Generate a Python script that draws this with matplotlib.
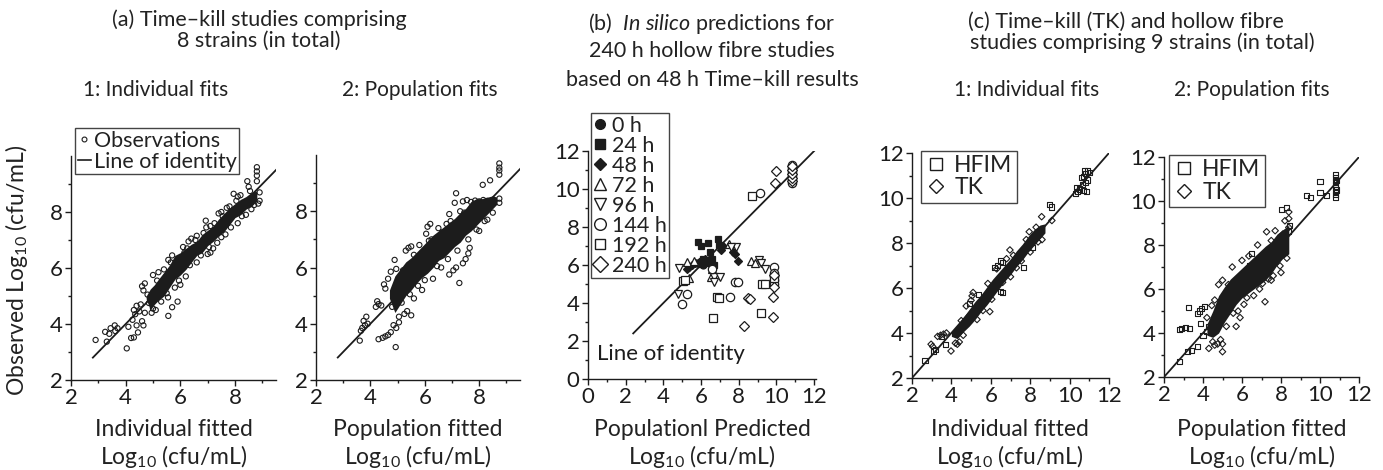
import numpy as np
import matplotlib
matplotlib.use("Agg")
import matplotlib.pyplot as plt
from matplotlib.lines import Line2D

# === DATA ===
# (a1) time-kill, individual fits: dense core band + visible single points
a1_band_x = [4.75, 4.9, 5.05, 5.2, 5.4, 5.6, 5.8, 6.0, 6.2, 6.4, 6.6, 6.8, 7.0, 7.2, 7.4,
             7.6, 7.8, 8.0, 8.2, 8.4, 8.6, 8.8]
a1_band_lo = [4.9, 4.5, 4.7, 4.85, 5.0, 5.3, 5.6, 5.75, 5.95, 6.2, 6.45, 6.55, 6.8, 6.95,
              7.15, 7.3, 7.55, 7.8, 7.9, 8.1, 8.2, 8.4]
a1_band_hi = [5.0, 5.25, 5.4, 5.6, 5.85, 6.1, 6.45, 6.55, 6.7, 6.85, 6.95, 7.2, 7.35, 7.5,
              7.75, 7.95, 8.15, 8.3, 8.45, 8.55, 8.7, 8.75]
a1_obs = [(2.9, 3.43), (3.31, 3.37), (3.25, 3.72), (3.4, 3.65), (3.45, 3.85), (3.6, 3.95),
          (3.7, 3.85), (3.62, 3.75), (4.04, 3.13), (4.2, 3.5), (4.3, 3.52), (4.45, 3.7),
          (4.4, 3.95), (4.1, 3.9), (4.25, 4.15), (4.35, 4.35), (4.5, 4.45), (4.6, 4.1),
          (4.65, 3.95), (4.7, 4.4), (4.4, 4.65), (4.55, 4.7), (4.3, 4.5), (4.6, 5.35),
          (4.7, 5.45), (4.65, 5.2), (5.0, 5.75), (5.2, 5.85), (5.4, 5.95), (5.56, 6.29),
          (5.56, 4.29), (5.7, 4.6), (5.9, 4.8), (5.55, 4.95), (6.0, 5.4), (6.2, 5.7),
          (6.1, 6.75), (6.25, 6.7), (6.3, 6.95), (6.4, 7.05), (6.93, 7.69), (6.95, 7.45),
          (7.1, 6.55), (7.2, 6.7), (7.4, 7.95), (7.5, 8.0), (7.8, 8.2), (7.95, 8.65),
          (8.1, 8.55), (8.45, 9.1), (8.5, 8.9), (8.8, 9.1), (8.8, 9.3), (8.8, 9.45),
          (8.8, 9.6), (8.85, 8.3), (8.9, 8.4), (5.3, 5.3), (5.1, 4.5), (4.95, 4.4),
          (5.8, 5.3), (6.6, 6.2), (7.0, 6.5), (7.5, 7.1), (8.1, 7.6), (8.4, 7.9),
          (8.6, 8.1), (5.7, 6.45), (6.6, 7.15), (7.1, 7.5), (7.7, 8.15), (8.2, 8.6),
          (4.85, 4.75), (4.8, 5.05), (5.0, 4.55), (5.15, 5.55), (5.3, 4.8), (5.5, 5.1),
          (5.65, 6.2), (5.95, 5.55), (6.15, 6.55), (6.35, 6.1), (6.55, 7.0), (6.75, 6.45),
          (6.85, 7.25), (7.05, 6.75), (7.25, 7.6), (7.35, 6.9), (7.55, 7.85), (7.65, 7.2),
          (7.85, 7.45), (8.05, 8.4), (8.25, 7.85), (8.55, 8.75), (8.7, 8.25), (8.9, 8.7)]

# (a2) time-kill, population fits
a2_band_x = [4.7, 4.9, 5.1, 5.3, 5.5, 5.7, 5.9, 6.1, 6.3, 6.5, 6.7, 6.9, 7.1, 7.3, 7.5,
             7.7, 7.9, 8.1, 8.3, 8.5, 8.65]
a2_band_lo = [4.9, 4.4, 4.7, 5.0, 5.2, 5.45, 5.65, 5.8, 6.0, 6.25, 6.35, 6.55, 6.75, 6.9,
              7.15, 7.3, 7.5, 7.7, 7.9, 8.1, 8.25]
a2_band_hi = [5.2, 5.7, 5.95, 6.2, 6.35, 6.55, 6.75, 6.95, 7.15, 7.3, 7.45, 7.6, 7.75, 7.95,
              8.1, 8.35, 8.45, 8.45, 8.5, 8.55, 8.5]
a2_obs = [(3.61, 3.4), (3.7, 3.85), (3.75, 4.1), (3.85, 4.25), (3.8, 3.95), (3.9, 4.0),
          (3.65, 3.75), (4.2, 4.6), (4.3, 4.7), (4.4, 4.65), (4.25, 4.8), (4.3, 3.45),
          (4.45, 3.5), (4.55, 3.55), (4.65, 3.6), (4.75, 3.7), (4.85, 3.95), (4.95, 3.85),
          (5.05, 4.05), (4.93, 3.17), (5.05, 4.25), (5.25, 4.35), (5.35, 4.45), (5.5, 4.3),
          (4.55, 5.25), (4.5, 5.4), (4.65, 5.6), (4.75, 5.85), (4.89, 6.27), (5.3, 6.6),
          (5.4, 6.7), (5.5, 6.75), (6.0, 6.55), (6.15, 6.95), (6.05, 7.2), (6.2, 7.55),
          (6.1, 7.45), (6.8, 7.55), (6.95, 7.65), (7.15, 8.64), (7.1, 8.3), (6.9, 7.9),
          (7.27, 5.45), (6.9, 5.75), (7.05, 5.9), (7.15, 6.0), (7.4, 6.15), (7.5, 6.3),
          (7.6, 6.5), (7.65, 6.7), (8.13, 8.94), (8.4, 9.1), (8.74, 9.3), (8.74, 9.45),
          (8.74, 9.55), (8.74, 9.7), (8.74, 8.3), (8.74, 8.45), (5.9, 5.2), (6.3, 5.6),
          (5.6, 4.9), (6.6, 6.0), (8.0, 7.3), (8.3, 7.7), (5.2, 5.9), (5.8, 6.8),
          (6.5, 7.4), (7.3, 8.0), (7.4, 8.35), (7.55, 8.4), (7.7, 8.33), (7.85, 8.38),
          (8.0, 8.35), (8.15, 8.4), (8.3, 8.37), (8.45, 8.35), (4.8, 4.6), (4.95, 5.95),
          (5.15, 4.75), (5.45, 5.05), (5.6, 6.45), (5.75, 5.35), (6.0, 5.55), (6.25, 7.0),
          (6.45, 6.05), (6.65, 7.25), (6.85, 6.3), (7.0, 7.5), (7.2, 6.6), (7.45, 7.95),
          (7.6, 7.0), (7.9, 7.35), (8.2, 7.65), (8.5, 7.95)]

# (b) in silico predictions, one list per sampling time
b_0h = [(5.8, 6.1), (6.0, 6.2), (6.2, 6.25), (6.4, 6.1), (6.1, 6.0), (6.5, 6.2)]
b_24h = [(5.86, 7.23), (5.98, 7.0), (6.39, 7.18), (6.89, 7.35), (6.5, 6.7), (6.93, 7.05),
         (5.9, 6.1), (6.1, 6.3), (6.3, 6.2), (6.6, 6.3), (6.7, 6.0), (6.0, 6.05), (6.45, 6.1)]
b_48h = [(7.07, 6.8), (7.14, 7.0), (7.96, 6.23), (7.7, 6.7), (7.8, 6.6), (5.37, 5.9),
         (5.25, 5.8), (5.5, 6.0), (5.7, 6.1), (6.2, 6.3), (9.85, 4.9), (9.85, 5.1),
         (9.85, 5.25), (10.8, 11.1), (5.1, 5.2)]
b_72h = [(7.47, 7.09), (8.67, 6.23), (8.85, 6.1), (6.51, 5.39), (5.28, 6.18), (5.35, 5.3),
         (6.6, 5.8), (5.6, 6.2), (10.8, 10.9)]
b_96h = [(7.86, 6.93), (9.05, 6.25), (9.16, 6.1), (4.84, 5.82), (4.75, 4.47), (6.68, 5.35),
         (6.98, 5.35), (6.68, 5.1), (7.6, 6.95), (9.4, 5.8)]
b_144h = [(9.14, 9.77), (4.98, 3.95), (5.28, 4.47), (7.56, 4.31), (7.79, 5.12), (7.95, 5.12),
          (9.85, 5.9), (9.85, 5.6), (9.85, 5.4), (9.85, 5.2), (9.85, 5.0), (10.8, 10.3),
          (10.8, 10.5), (10.8, 10.7), (10.8, 10.9), (10.8, 11.1), (10.8, 11.25), (6.6, 5.8)]
b_192h = [(8.7, 9.65), (6.86, 4.33), (6.95, 4.25), (6.63, 3.19), (9.17, 3.45), (9.26, 4.98),
          (9.4, 4.98), (5.02, 5.16), (5.15, 5.2), (9.85, 5.3)]
b_240h = [(9.97, 10.95), (9.93, 10.33), (8.49, 4.25), (8.6, 4.2), (9.84, 4.33), (9.81, 3.28),
          (8.3, 2.79), (10.8, 10.4), (10.8, 10.6), (10.8, 10.8), (10.8, 11.0), (10.8, 11.2),
          (9.85, 4.85), (9.85, 5.5)]
b_labels = ["0 h", "24 h", "48 h", "72 h", "96 h", "144 h", "192 h", "240 h"]

# (c1) TK + HFIM, individual fits
c1_band_x = [4.0, 4.3, 4.6, 4.9, 5.2, 5.5, 5.8, 6.1, 6.4, 6.7, 7.0, 7.3, 7.6, 7.9, 8.2,
             8.5, 8.75]
c1_band_lo = [3.85, 3.75, 4.05, 4.3, 4.6, 4.95, 5.25, 5.6, 5.95, 6.3, 6.6, 6.95, 7.25, 7.6,
              7.9, 8.2, 8.45]
c1_band_hi = [4.05, 4.35, 4.7, 5.05, 5.4, 5.7, 6.05, 6.4, 6.7, 7.0, 7.3, 7.65, 7.95, 8.3,
              8.6, 8.8, 8.85]
c1_hfim = [(2.66, 2.76), (3.1, 3.2), (3.2, 3.25), (3.68, 3.47), (3.5, 3.85), (6.57, 5.8),
           (6.5, 5.85), (6.2, 6.9), (6.35, 7.0), (6.5, 7.2), (6.6, 7.15), (7.64, 6.92),
           (9.0, 9.73), (9.1, 9.6), (10.3, 10.2), (10.4, 10.3), (10.35, 10.45), (10.5, 10.4),
           (10.7, 10.35), (10.85, 10.3), (10.6, 10.9), (10.7, 10.95), (10.8, 11.1),
           (10.9, 11.2), (10.75, 11.2), (11.0, 11.15), (10.9, 10.8), (10.65, 10.6),
           (10.8, 10.7), (4.9, 5.3), (5.4, 5.7), (8.1, 7.8)]
c1_tk = [(2.97, 3.5), (3.05, 3.4), (3.3, 3.85), (3.45, 3.9), (3.6, 3.95), (3.75, 4.0),
         (3.98, 3.2), (4.2, 3.55), (4.3, 3.5), (4.4, 3.6), (4.6, 3.9), (5.0, 5.45),
         (5.05, 5.65), (5.1, 5.8), (5.95, 4.95), (5.6, 5.0), (6.97, 7.69), (7.0, 6.5),
         (7.8, 8.15), (7.95, 8.5), (8.58, 9.17), (9.1, 9.0), (8.4, 8.05), (4.5, 4.55),
         (5.3, 4.6), (6.3, 6.85), (6.8, 7.3), (7.3, 6.9), (8.0, 7.6), (8.6, 8.15),
         (4.75, 5.2), (5.45, 5.15), (5.85, 6.2), (6.05, 5.5), (6.6, 6.25), (7.15, 7.45),
         (7.55, 7.2), (8.3, 8.7)]

# (c2) TK + HFIM, population fits
c2_band_x = [4.2, 4.5, 4.8, 5.1, 5.4, 5.7, 6.0, 6.3, 6.6, 6.9, 7.2, 7.5, 7.8, 8.1, 8.4]
c2_band_lo = [3.9, 3.8, 4.0, 4.5, 4.9, 5.3, 5.6, 5.8, 6.0, 6.2, 6.4, 6.7, 7.1, 7.4, 7.6]
c2_band_hi = [4.4, 5.0, 5.7, 6.1, 6.45, 6.7, 6.95, 7.2, 7.45, 7.7, 7.95, 8.15, 8.5, 8.7, 8.9]
c2_hfim = [(2.82, 2.7), (3.2, 3.15), (3.4, 3.2), (3.7, 3.4), (2.8, 4.15), (2.9, 4.2),
           (3.1, 4.25), (3.3, 4.2), (3.28, 5.14), (3.7, 4.9), (3.8, 5.0), (3.9, 5.1),
           (4.1, 5.2), (3.85, 4.45), (4.0, 3.9), (6.4, 7.05), (6.5, 7.6), (8.03, 9.6),
           (8.3, 9.7), (9.32, 10.27), (9.5, 10.14), (10.0, 10.88), (10.0, 10.4),
           (10.35, 10.25), (10.8, 10.15), (10.8, 10.3), (10.8, 10.45), (10.8, 10.6),
           (10.8, 10.75), (10.8, 10.9), (10.8, 11.05), (10.8, 11.2), (10.85, 10.5),
           (10.85, 10.95), (4.3, 4.3), (4.2, 4.05), (8.4, 8.6), (8.45, 8.9)]
c2_tk = [(4.3, 3.3), (4.5, 3.6), (4.6, 3.45), (4.75, 3.5), (4.9, 3.7), (5.0, 3.15),
         (5.0, 3.5), (4.8, 6.2), (5.0, 6.4), (5.3, 6.2), (5.5, 5.6), (5.7, 4.3), (5.9, 4.7),
         (5.8, 5.0), (7.26, 8.6), (7.18, 5.42), (7.5, 6.4), (7.6, 6.6), (8.0, 6.75),
         (8.1, 8.5), (8.2, 9.1), (8.4, 8.8), (8.4, 9.2), (8.4, 9.5), (6.1, 5.3), (6.6, 5.7),
         (6.9, 6.0), (5.5, 7.0), (6.0, 7.3), (6.8, 8.0), (7.5, 8.2), (4.2, 4.7), (4.6, 5.5),
         (4.45, 5.25), (5.2, 4.3), (5.55, 4.9), (6.25, 5.6), (6.35, 7.5), (7.05, 6.25),
         (7.35, 6.45), (7.7, 8.65), (7.95, 7.05), (8.3, 7.4)]
# === END DATA ===

FONT = "Lato"
plt.rcParams["font.family"] = [FONT, "DejaVu Sans"]
plt.rcParams["mathtext.fontset"] = "custom"
plt.rcParams["mathtext.rm"] = FONT
plt.rcParams["mathtext.it"] = FONT + ":italic"
plt.rcParams["text.color"] = "#222222"

W, H = 1383, 470
fig = plt.figure(figsize=(W / 100, H / 100), dpi=100)
INK = "#1c1c1c"


def add_axes_px(left, right, top, bottom):
    # axes placed by pixel edges of the reference
    return fig.add_axes([left / W, 1 - bottom / H, (right - left) / W, (bottom - top) / H])


def ftext(px, py, s, **kw):
    kw.setdefault("ha", "center")
    kw.setdefault("va", "center")
    kw.setdefault("fontsize", 15.5)
    fig.text(px / W, 1 - py / H, s, **kw)


def style_axes(ax, xlim, ylim, major, minor):
    ax.set_xlim(*xlim)
    ax.set_ylim(*ylim)
    ax.set_xticks(major)
    ax.set_xticks(minor, minor=True)
    ax.set_yticks([t for t in major if t <= ylim[1]])
    ax.set_yticks([t for t in minor if ylim[0] < t < ylim[1]], minor=True)
    for s in ("top", "right"):
        ax.spines[s].set_visible(False)
    for s in ("left", "bottom"):
        ax.spines[s].set_linewidth(1.0)
        ax.spines[s].set_color(INK)
    ax.tick_params(which="major", direction="out", length=4, width=1, labelsize=16,
                   pad=2, colors=INK)
    ax.tick_params(which="minor", direction="out", length=2.5, width=1, colors=INK)


def pts(pairs):
    arr = np.array(pairs)
    return arr[:, 0], arr[:, 1]


def identity(ax, lo, hi):
    ax.plot([lo, hi], [lo, hi], color=INK, lw=1.3, zorder=4)


# 1) panel a1
ax = add_axes_px(71, 276, 156, 380)
style_axes(ax, (2, 9.5), (2, 10), [2, 4, 6, 8], [3, 5, 7, 9])
ax.fill_between(a1_band_x, a1_band_lo, a1_band_hi, color=INK, lw=0, zorder=2)
x, y = pts(a1_obs)
ax.scatter(x, y, s=14, marker="o", facecolors="none", edgecolors=INK, linewidths=0.8, zorder=3)
identity(ax, 2.8, 9.5)
h = [Line2D([], [], marker="o", ls="none", mfc="none", mec=INK, ms=3.5, mew=0.8),
     Line2D([], [], color=INK, lw=1.2)]
ax.legend(h, ["Observations", "Line of identity"], loc="upper left",
          bbox_to_anchor=(0.02, 1.125), fontsize=15.5, frameon=True, fancybox=False,
          edgecolor="#444444", framealpha=1, handlelength=0.6, handletextpad=0.15,
          borderpad=0.12, labelspacing=0.05, borderaxespad=0)

# 2) panel a2
ax = add_axes_px(316, 520, 155, 380)
style_axes(ax, (2, 9.5), (2, 10), [2, 4, 6, 8], [3, 5, 7, 9])
ax.fill_between(a2_band_x, a2_band_lo, a2_band_hi, color=INK, lw=0, zorder=2)
x, y = pts(a2_obs)
ax.scatter(x, y, s=14, marker="o", facecolors="none", edgecolors=INK, linewidths=0.8, zorder=3)
identity(ax, 2.8, 9.5)

# 3) panel b
ax = add_axes_px(588, 816, 151, 379)
style_axes(ax, (0, 12), (0, 12), list(range(0, 13, 2)), list(range(1, 12, 2)))
ax.set_xlim(0, 12.1)
identity(ax, 2.4, 12.05)
b_series = [b_0h, b_24h, b_48h, b_72h, b_96h, b_144h, b_192h, b_240h]
b_markers = ["o", "s", "D", "^", "v", "o", "s", "D"]
b_filled = [True, True, True, False, False, False, False, False]
b_sizes = [5, 5, 4.2, 6, 6, 6, 5.2, 5.5]
handles = []
for data, m, filled, ms in zip(b_series, b_markers, b_filled, b_sizes):
    x, y = pts(data)
    fc = INK if filled else "white"
    ax.plot(x, y, ls="none", marker=m, ms=ms, mfc=fc, mec=INK, mew=0.9, zorder=5)
    handles.append(Line2D([], [], ls="none", marker=m, ms=ms * 1.4, mfc=fc, mec=INK, mew=1.0))
ax.legend(handles, b_labels, loc="upper left", bbox_to_anchor=(0.013, 1.167),
          fontsize=15.5, frameon=True, fancybox=False, edgecolor="#444444", framealpha=1,
          handlelength=0.6, handletextpad=0.25, borderpad=0.12, labelspacing=0.0,
          borderaxespad=0)
ax.text(0.5, 1.3, "Line of identity", fontsize=16, ha="left", va="center", color=INK)

# 4) panels c1 and c2
c_panels = [((912, 1109, 153, 378), c1_band_x, c1_band_lo, c1_band_hi, c1_hfim, c1_tk, 0.046),
            ((1164, 1359, 157, 377), c2_band_x, c2_band_lo, c2_band_hi, c2_hfim, c2_tk, 0.026)]
for rect, bx, blo, bhi, hf, tk, lx in c_panels:
    ax = add_axes_px(*rect)
    style_axes(ax, (2, 12), (2, 12), list(range(2, 13, 2)), list(range(3, 12, 2)))
    ax.fill_between(bx, blo, bhi, color=INK, lw=0, zorder=2)
    x, y = pts(hf)
    ax.scatter(x, y, s=13, marker="s", facecolors="none", edgecolors=INK, linewidths=0.8, zorder=3)
    x, y = pts(tk)
    ax.scatter(x, y, s=11, marker="D", facecolors="none", edgecolors=INK, linewidths=0.8, zorder=3)
    identity(ax, 2, 12)
    h = [Line2D([], [], ls="none", marker="s", ms=9, mfc="none", mec=INK, mew=1.0),
         Line2D([], [], ls="none", marker="D", ms=7.5, mfc="none", mec=INK, mew=1.0)]
    ax.legend(h, ["HFIM", "TK"], loc="upper left", bbox_to_anchor=(lx, 1.01), fontsize=16.5,
              frameon=True, fancybox=False, edgecolor="#444444", framealpha=1,
              handlelength=0.9, handletextpad=0.35, borderpad=0.2, labelspacing=0.05,
              borderaxespad=0)

# 5) titles and labels
ftext(259, 20, "(a) Time\u2013kill studies comprising")
ftext(259, 41, "8 strains (in total)")
ftext(156, 90, "1: Individual fits", fontsize=15)
ftext(420, 90, "2: Population fits", fontsize=15)
ftext(712, 23, r"(b)  $\mathit{In\ silico}$ predictions for")
ftext(712, 51, "240 h hollow fibre studies")
ftext(712, 80, "based on 48 h Time\u2013kill results")
ftext(968, 22, "(c) Time\u2013kill (TK) and hollow fibre", ha="left")
ftext(970, 43, "studies comprising 9 strains (in total)", ha="left")
ftext(1027, 90, "1: Individual fits", fontsize=15)
ftext(1252, 90, "2: Population fits", fontsize=15)

xlabels = [(174, "Individual fitted"), (418, "Population fitted"),
           (702, "Populationl Predicted"), (1010, "Individual fitted"),
           (1262, "Population fitted")]
for cx, s in xlabels:
    ftext(cx, 430, s, fontsize=16.5)
    ftext(cx, 456, "Log$_{10}$ (cfu/mL)", fontsize=16.5)
ftext(17, 270, "Observed Log$_{10}$ (cfu/mL)", fontsize=16.5, rotation=90)

fig.savefig("out.png", dpi=100)
plt.close(fig)
